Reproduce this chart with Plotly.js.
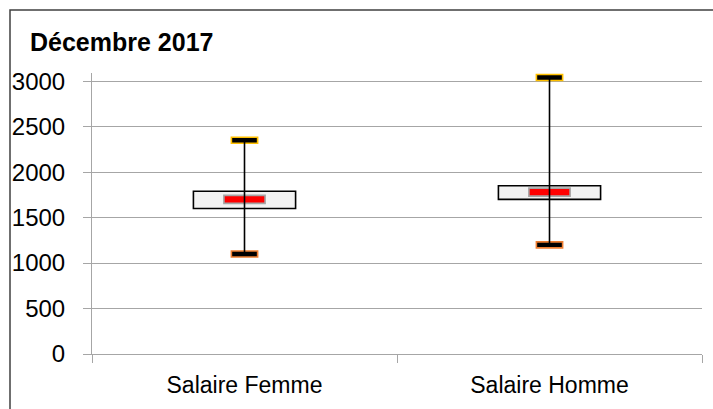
<!DOCTYPE html>
<html>
<head>
<meta charset="utf-8">
<script src="https://cdn.plot.ly/plotly-3.0.1.min.js"></script>
<style>html,body{margin:0;padding:0;background:#fff;}#chart{width:713px;height:409px;}</style>
</head>
<body>
<div id="chart"></div>
<script>
// Data
const categories = ['Salaire Femme', 'Salaire Homme'];
const minValues = [1100, 1200];
const q1Values = [1600, 1700];
const medianValues = [1700, 1780];
const q3Values = [1790, 1850];
const maxValues = [2350, 3040];
const yTicks = [0, 500, 1000, 1500, 2000, 2500, 3000];

// Styles (marker sizes in data units)
const capH = 66, medH = 88;

const whiskerX = [], whiskerY = [];
categories.forEach((c, i) => { whiskerX.push(c, c, null); whiskerY.push(minValues[i], maxValues[i], null); });

const traces = [
  {type: 'scatter', mode: 'lines', x: whiskerX, y: whiskerY, line: {color: '#000', width: 1.6}, hoverinfo: 'skip', showlegend: false},
  {type: 'bar', x: categories, base: q1Values, y: q3Values.map((v, i) => v - q1Values[i]), width: 0.335,
   marker: {color: '#F2F2F2', line: {color: '#000', width: 1.6}}, hoverinfo: 'skip', showlegend: false},
  {type: 'bar', x: categories, base: medianValues.map(v => v - medH / 2), y: medianValues.map(() => medH), width: 0.135,
   marker: {color: '#FF0000', line: {color: '#A5A5A5', width: 1.6}}, hoverinfo: 'skip', showlegend: false},
  {type: 'bar', x: categories, base: maxValues.map(v => v - capH / 2), y: maxValues.map(() => capH), width: 0.086,
   marker: {color: '#000', line: {color: '#FFC000', width: 1.6}}, hoverinfo: 'skip', showlegend: false},
  {type: 'bar', x: categories, base: minValues.map(v => v - capH / 2), y: minValues.map(() => capH), width: 0.086,
   marker: {color: '#000', line: {color: '#ED7D31', width: 1.6}}, hoverinfo: 'skip', showlegend: false}
];

const mL = 92, mR = 11, mT = 73, mB = 55;
const pw = 713 - mL - mR, ph = 409 - mT - mB;

const layout = {
  width: 713, height: 409,
  margin: {l: mL, r: mR, t: mT, b: mB, pad: 0},
  paper_bgcolor: '#fff', plot_bgcolor: '#fff',
  barmode: 'overlay',
  showlegend: false,
  font: {family: '"Liberation Sans", Arial, sans-serif', size: 24, color: '#000'},
  title: {text: '<b>Décembre 2017</b>', xref: 'container', yref: 'container', x: 30 / 713, xanchor: 'left',
          y: 1 - 42 / 409, yanchor: 'middle', font: {family: '"Liberation Sans", Arial, sans-serif', size: 25, color: '#000'}},
  xaxis: {type: 'category', range: [-0.5, 1.5], tickson: 'boundaries', ticks: 'outside', ticklen: 8, tickcolor: '#A6A6A6',
          showline: true, linecolor: '#A6A6A6', linewidth: 1, showgrid: false, zeroline: false, ticklabelstandoff: 10,
          tickfont: {size: 23}},
  yaxis: {range: [0, 3090], tickvals: yTicks, ticktext: yTicks.map(String), ticks: 'outside', ticklen: 8, tickcolor: '#A6A6A6',
          showline: true, linecolor: '#A6A6A6', linewidth: 1, showgrid: true, gridcolor: '#A6A6A6', gridwidth: 1,
          zeroline: false, ticklabelstandoff: 13, tickfont: {size: 24}},
  shapes: [{type: 'rect', xref: 'paper', yref: 'paper',
            x0: (10 - mL) / pw, x1: 2, y0: -1, y1: (409 - mB - 10) / ph,
            line: {color: '#404040', width: 1.5}, fillcolor: 'rgba(0,0,0,0)', layer: 'below'}]
};

Plotly.newPlot('chart', traces, layout, {staticPlot: true, displayModeBar: false});
</script>
</body>
</html>
